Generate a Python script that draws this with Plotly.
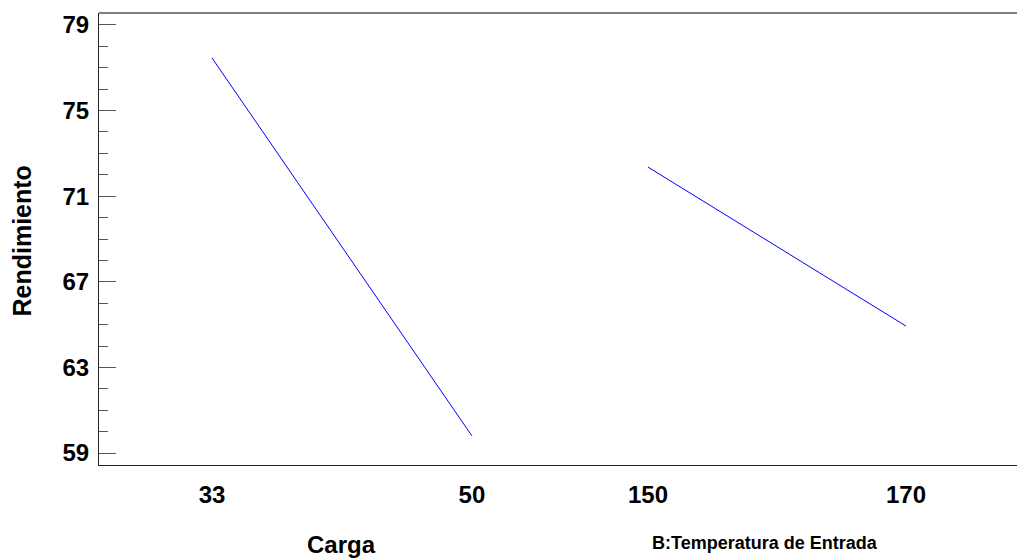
import plotly.graph_objects as go

# Main effects data
carga_levels = [33, 50]
carga_means = [77.46, 59.8]
temp_levels = [150, 170]
temp_means = [72.36, 64.93]
y_ticks = [59, 63, 67, 71, 75, 79]
y_minor = [60, 61, 62, 64, 65, 66, 68, 69, 70, 72, 73, 74, 76, 77, 78]

FONT = "Arial, Liberation Sans, sans-serif"
W, H = 1017, 559
ML, MR, MT, MB = 99, 0, 13, 94
PW = W - ML - MR
PH = H - MT - MB
split = (560 - ML) / PW

fig = go.Figure()
fig.add_trace(go.Scatter(x=carga_levels, y=carga_means, mode="lines",
                         line=dict(color="#0000FF", width=1),
                         xaxis="x", yaxis="y", showlegend=False, hoverinfo="x+y"))
fig.add_trace(go.Scatter(x=temp_levels, y=temp_means, mode="lines",
                         line=dict(color="#0000FF", width=1),
                         xaxis="x2", yaxis="y", showlegend=False, hoverinfo="x+y"))

tickfont = dict(family=FONT, size=24, color="black", weight="bold")
yrange = [58.44, 79.56]

fig.update_layout(
    width=W, height=H,
    margin=dict(l=ML, r=MR, t=MT, b=MB, pad=0),
    paper_bgcolor="white", plot_bgcolor="white",
    showlegend=False,
    xaxis=dict(domain=[0, split], range=[25.61, 55.76], tickvals=carga_levels,
               ticktext=[str(v) for v in carga_levels], ticks="",
               showgrid=False, zeroline=False, showline=True,
               linecolor="#222222", linewidth=1, anchor="y",
               tickfont=tickfont, ticklabelstandoff=8),
    xaxis2=dict(domain=[split, 1], range=[143.18, 178.6], tickvals=temp_levels,
                ticktext=[str(v) for v in temp_levels], ticks="",
                showgrid=False, zeroline=False, showline=True,
                linecolor="#222222", linewidth=1, anchor="y",
                tickfont=tickfont, ticklabelstandoff=8),
    yaxis=dict(domain=[0, 1], range=yrange, tickvals=y_ticks,
               ticktext=[str(v) for v in y_ticks],
               ticks="inside", ticklen=17, tickcolor="#555555", tickwidth=1,
               minor=dict(ticks="inside", ticklen=9, tickcolor="#555555",
                          tickwidth=1, tickvals=y_minor, showgrid=False),
               showgrid=False, zeroline=False, showline=True,
               linecolor="#222222", linewidth=1, anchor="x",
               tickfont=tickfont, ticklabelstandoff=4),
    yaxis2=dict(overlaying="y", side="right", anchor="x2", range=yrange,
                tickvals=y_ticks, showticklabels=False,
                ticks="inside", ticklen=15, tickcolor="#555555", tickwidth=1,
                minor=dict(ticks="inside", ticklen=7, tickcolor="#555555",
                           tickwidth=1, tickvals=y_minor, showgrid=False),
                showgrid=False, zeroline=False, showline=False),
    shapes=[dict(type="line", xref="paper", yref="paper", x0=0, x1=1, y0=1, y1=1,
                 line=dict(color="#555555", width=1.5))],
    annotations=[
        dict(text="Carga", xref="paper", yref="paper",
             x=(341 - ML) / PW, y=(PH + MT - 544) / PH,
             xanchor="center", yanchor="middle", showarrow=False,
             font=dict(family=FONT, size=24, color="black", weight="bold")),
        dict(text="B:Temperatura de Entrada", xref="paper", yref="paper",
             x=(765 - ML) / PW, y=(PH + MT - 543) / PH,
             xanchor="center", yanchor="middle", showarrow=False,
             font=dict(family=FONT, size=18, color="black", weight="bold")),
        dict(text="Rendimiento", xref="paper", yref="paper",
             x=(22 - ML) / PW, y=(PH + MT - 241.5) / PH,
             xanchor="center", yanchor="middle", showarrow=False, textangle=-90,
             font=dict(family=FONT, size=25, color="black", weight="bold")),
    ],
)

fig.write_html("out.html")
